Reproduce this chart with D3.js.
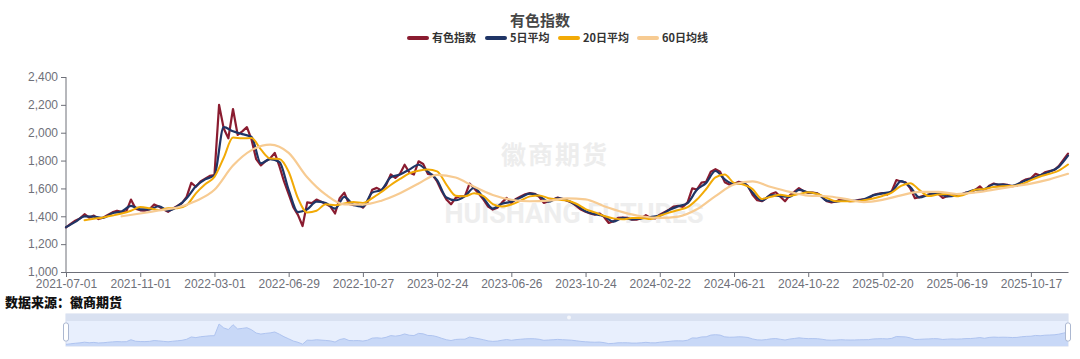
<!DOCTYPE html>
<html><head><meta charset="utf-8">
<script src="https://cdn.jsdelivr.net/npm/d3@7/dist/d3.min.js"></script>
<style>
html,body{margin:0;padding:0;background:#fff;}
svg{display:block;}
</style></head>
<body>
<svg id="chart" width="1080" height="359"></svg>
<script>
// ---- data ----
const title = "有色指数";
const seriesNames = ["有色指数", "5日平均", "20日平均", "60日均线"];
const totalDays = 1080;           // last trading-day ordinal
const tickDays = [0,80,160,240,320,400,480,560,640,720,800,880,960,1040];
const tickLabels = ["2021-07-01","2021-11-01","2022-03-01","2022-06-29","2022-10-27","2023-02-24","2023-06-26","2023-10-24","2024-02-22","2024-06-21","2024-10-22","2025-02-20","2025-06-19","2025-10-17"];
const yTicks = [1000,1200,1400,1600,1800,2000,2200,2400];

// index, every 5 trading days from day 0
const indexStep = 5;
const indexValues = [
1320,1345,1368,1385,1415,1390,1405,1380,1390,1410,
1428,1440,1432,1435,1520,1455,1443,1440,1450,1485,
1470,1450,1432,1455,1475,1495,1540,1640,1612,1650,
1670,1690,1695,2200,2030,1960,2170,1985,2010,2040,
1950,1810,1765,1795,1815,1855,1760,1650,1560,1465,
1410,1330,1500,1495,1520,1505,1490,1470,1420,1530,
1570,1488,1480,1485,1462,1500,1590,1604,1585,1625,
1700,1676,1705,1770,1715,1700,1795,1775,1705,1698,
1650,1580,1520,1486,1532,1544,1544,1635,1600,1562,
1520,1470,1448,1462,1500,1532,1496,1525,1542,1558,
1566,1562,1540,1496,1508,1520,1535,1522,1512,1500,
1475,1448,1432,1420,1412,1420,1395,1352,1364,1388,
1390,1389,1375,1376,1387,1408,1388,1385,1412,1430,
1448,1470,1475,1468,1500,1600,1592,1642,1648,1720,
1738,1720,1645,1628,1632,1648,1640,1618,1555,1515,
1508,1530,1560,1572,1540,1508,1550,1575,1602,1580,
1568,1570,1565,1540,1508,1500,1506,1522,1512,1508,
1510,1518,1522,1525,1553,1562,1567,1556,1580,1660,
1650,1643,1600,1530,1538,1549,1556,1568,1563,1532,
1545,1555,1548,1555,1570,1572,1590,1615,1582,1620,
1635,1624,1630,1625,1616,1620,1650,1665,1672,1705,
1692,1715,1724,1732,1760,1805,1850
];

// 5-day average, every 10 trading days from day 0
const ma5Start = 0, ma5Step = 10;
const ma5Values = [
1322,1360,1400,1398,1388,1422,1435,1475,1450,1450,
1472,1440,1470,1530,1615,1665,1695,2040,2010,1990,
1970,1780,1810,1790,1590,1430,1450,1505,1495,1455,
1540,1482,1470,1570,1590,1680,1700,1735,1770,1720,
1660,1535,1515,1545,1605,1530,1455,1490,1505,1535,
1562,1545,1505,1530,1515,1480,1436,1415,1400,1362,
1388,1378,1385,1395,1405,1445,1472,1495,1590,1640,
1725,1665,1632,1640,1570,1512,1552,1545,1540,1590,
1572,1562,1512,1505,1514,1510,1522,1550,1565,1578,
1652,1610,1535,1555,1563,1542,1550,1568,1590,1595,
1630,1628,1618,1645,1670,1695,1720,1755,1835
];

// 20-day average, every 10 trading days from day 20
const ma20Start = 20, ma20Step = 10;
const ma20Values = [
1372,1382,1392,1405,1420,1440,1466,1458,1445,1458,
1458,1480,1565,1630,1683,1820,1965,1960,1962,1880,
1815,1812,1720,1530,1428,1440,1486,1480,1492,1503,
1496,1530,1575,1625,1668,1708,1727,1736,1722,1628,
1548,1544,1565,1545,1488,1470,1485,1512,1543,1550,
1530,1520,1513,1490,1452,1428,1402,1385,1378,1387,
1388,1381,1404,1426,1445,1466,1520,1596,1680,1700,
1640,1628,1595,1525,1540,1554,1546,1560,1572,1560,
1532,1508,1508,1508,1515,1528,1546,1570,1618,1638,
1588,1545,1556,1560,1544,1560,1590,1596,1610,1616,
1618,1630,1660,1686,1705,1728,1772
];

// 60-day average, every 20 trading days from day 60
const ma60Start = 60, ma60Step = 20;
const ma60Values = [
1400,1420,1442,1463,1510,1590,1764,1875,1915,1855,
1680,1555,1485,1484,1512,1565,1635,1698,1678,1612,
1553,1519,1508,1512,1528,1522,1472,1430,1400,1388,
1398,1450,1545,1628,1650,1610,1575,1548,1544,1525,
1502,1518,1550,1575,1575,1560,1571,1592,1613,1635,
1665,1705
];

const colors = ["#8A1C30", "#1F3566", "#F2AA06", "#F7CB92"];
const source = "数据来源：徽商期货";

// ---- drawing ----
const svg = d3.select("#chart");
const M = {left: 66, right: 1068, top: 77, bottom: 272};
const x = d3.scaleLinear().domain([0, totalDays]).range([M.left, M.right]);
const y = d3.scaleLinear().domain([1000, 2400]).range([M.bottom, M.top]);

const toPts = (vals, start, step) => vals.map((v, i) => [start + i * step, v]);
const series = [
  toPts(indexValues, 0, indexStep),
  toPts(ma5Values, ma5Start, ma5Step),
  toPts(ma20Values, ma20Start, ma20Step),
  toPts(ma60Values, ma60Start, ma60Step)
];

// watermarks
svg.append("text").attr("x", 555).attr("y", 164).attr("text-anchor", "middle")
  .attr("font-family", "'Noto Sans CJK SC', sans-serif").attr("font-size", 25).attr("font-weight", 700)
  .attr("fill", "#ededed").attr("letter-spacing", 2).text("徽商期货");
svg.append("text").attr("x", 574).attr("y", 223).attr("text-anchor", "middle")
  .attr("font-family", "Roboto, 'Liberation Sans', sans-serif").attr("font-size", 27).attr("font-weight", 700)
  .attr("fill", "#eeeeee").text("HUISHANG FUTURES");

const fontUI = "'Liberation Sans', Arial, sans-serif";

// axes
const yAxis = d3.axisLeft(y).tickValues(yTicks).tickFormat(d3.format(",")).tickSize(5).tickPadding(3);
const gy = svg.append("g").attr("transform", `translate(${M.left},0)`).call(yAxis);
const xAxis = d3.axisBottom(x).tickValues(tickDays).tickFormat((d, i) => tickLabels[i]).tickSize(5).tickSizeOuter(0).tickPadding(4);
const gx = svg.append("g").attr("transform", `translate(0,${M.bottom})`).call(xAxis);
[gx, gy].forEach(g => {
  g.select(".domain").attr("stroke", "#6E7079").attr("stroke-width", 1);
  g.selectAll(".tick line").attr("stroke", "#6E7079");
  g.selectAll(".tick text").attr("fill", "#6E7079").attr("font-size", 12).attr("font-family", fontUI);
});
gy.select(".domain").attr("d", `M0,${M.bottom}V${M.top}`);
gx.selectAll(".tick text").attr("dy", "0.6em");

// lines
const line = d3.line().x(d => x(d[0])).y(d => y(d[1]));
const smooth = d3.line().x(d => x(d[0])).y(d => y(d[1])).curve(d3.curveMonotoneX);
const widths = [2.2, 2.2, 2, 2.2];
series.forEach((pts, k) => {
  svg.append("path").datum(pts)
    .attr("d", k === 0 ? line(pts) : smooth(pts))
    .attr("fill", "none").attr("stroke", colors[k]).attr("stroke-width", widths[k])
    .attr("stroke-linejoin", "round").attr("stroke-linecap", "round");
});

// title
svg.append("text").attr("x", 540).attr("y", 26).attr("text-anchor", "middle")
  .attr("font-family", "'Noto Sans CJK SC', sans-serif").attr("font-size", 15).attr("font-weight", 700)
  .attr("fill", "#464646").text(title);

// legend
const legendX = [407, 485, 558, 637];
const lg = svg.append("g");
seriesNames.forEach((name, k) => {
  const g = lg.append("g").attr("transform", `translate(${legendX[k]},38)`);
  g.append("line").attr("x1", 2).attr("x2", 20).attr("y1", 0).attr("y2", 0)
    .attr("stroke", colors[k]).attr("stroke-width", 4).attr("stroke-linecap", "round");
  g.append("text").attr("x", 25).attr("y", 4).attr("font-size", 11).attr("font-weight", 700)
    .attr("font-family", "'Noto Sans CJK SC', sans-serif").attr("fill", "#333").text(name);
});

// source
svg.append("text").attr("x", 5).attr("y", 307)
  .attr("font-family", "'Noto Sans CJK SC', sans-serif").attr("font-size", 13).attr("font-weight", 900)
  .attr("fill", "#111").text(source);

// data zoom slider
const sz = {top: 314, bar: 321, bottom: 346};
const zoomG = svg.append("g");
zoomG.append("rect").attr("x", M.left).attr("y", sz.top).attr("width", M.right - M.left).attr("height", sz.bottom - sz.top)
  .attr("fill", "#E8EFFD").attr("stroke", "#D3DCEE").attr("stroke-width", 1);
zoomG.append("rect").attr("x", M.left).attr("y", sz.top).attr("width", M.right - M.left).attr("height", sz.bar - sz.top)
  .attr("fill", "#D9E1F1");
const ys = d3.scaleLinear().domain([1250, 2200]).range([sz.bottom, sz.bar + 3]);
const shadowPts = series[0];
zoomG.append("path").datum(shadowPts)
  .attr("d", d3.area().x(d => x(d[0])).y0(sz.bottom).y1(d => ys(d[1]))(shadowPts))
  .attr("fill", "#C8D8F7");
zoomG.append("path").datum(shadowPts)
  .attr("d", d3.line().x(d => x(d[0])).y(d => ys(d[1]))(shadowPts))
  .attr("fill", "none").attr("stroke", "#AFC4F0").attr("stroke-width", 1);
zoomG.append("circle").attr("cx", (M.left + M.right) / 2 + 2).attr("cy", (sz.top + sz.bar) / 2).attr("r", 2).attr("fill", "#f4f6fb");
[M.left, M.right].forEach(hx => {
  zoomG.append("rect").attr("x", hx - 2.5).attr("y", 323).attr("width", 5).attr("height", 18).attr("rx", 2)
    .attr("fill", "#fff").attr("stroke", "#ACB8D1").attr("stroke-width", 1);
});
</script>
</body></html>
